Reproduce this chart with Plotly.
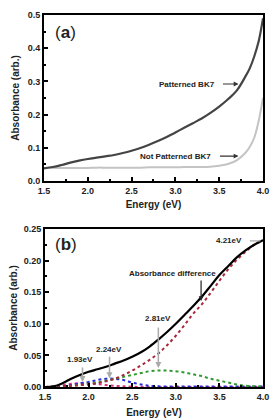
import plotly.graph_objects as go

# ---- Panel (a) data ----
energy_a = [1.5, 1.6, 1.7, 1.8, 1.9, 2.0, 2.1, 2.2, 2.3, 2.4, 2.5, 2.6, 2.7, 2.8, 2.9,
            3.0, 3.1, 3.2, 3.3, 3.4, 3.5, 3.6, 3.7, 3.8, 3.85, 3.9, 3.95, 4.0]
patterned = [0.038, 0.042, 0.048, 0.055, 0.061, 0.066, 0.070, 0.074, 0.078, 0.084, 0.091,
             0.099, 0.109, 0.120, 0.132, 0.146, 0.160, 0.174, 0.188, 0.205, 0.224, 0.246,
             0.272, 0.315, 0.340, 0.375, 0.420, 0.490]
not_patterned = [0.039, 0.039, 0.039, 0.039, 0.039, 0.039, 0.040, 0.040, 0.040, 0.040, 0.040,
                 0.040, 0.041, 0.041, 0.041, 0.041, 0.042, 0.042, 0.042, 0.043, 0.046, 0.051,
                 0.062, 0.085, 0.103, 0.130, 0.180, 0.250]

# ---- Panel (b) data ----
energy_b = [1.5, 1.6, 1.7, 1.8, 1.9, 2.0, 2.1, 2.2, 2.3, 2.4, 2.5, 2.6, 2.7, 2.8, 2.9,
            3.0, 3.1, 3.2, 3.3, 3.4, 3.5, 3.6, 3.7, 3.8, 3.9, 4.0]
abs_diff = [0.0, 0.001, 0.006, 0.013, 0.019, 0.024, 0.028, 0.032, 0.037, 0.042, 0.048,
            0.055, 0.064, 0.075, 0.087, 0.100, 0.114, 0.128, 0.143, 0.160, 0.177, 0.191,
            0.205, 0.216, 0.225, 0.232]
comp_421 = [0.0, 0.0, 0.001, 0.002, 0.003, 0.004, 0.006, 0.009, 0.013, 0.019, 0.026,
            0.034, 0.043, 0.053, 0.066, 0.081, 0.098, 0.116, 0.131, 0.149, 0.168, 0.186,
            0.201, 0.214, 0.225, 0.232]
comp_281 = [0.0, 0.0005, 0.001, 0.002, 0.003, 0.005, 0.007, 0.010, 0.013, 0.016, 0.019,
            0.022, 0.025, 0.026, 0.026, 0.025, 0.023, 0.020, 0.017, 0.013, 0.010, 0.007,
            0.004, 0.002, 0.001, 0.0005]
comp_224 = [0.0, 0.0005, 0.001, 0.003, 0.006, 0.008, 0.011, 0.013, 0.013, 0.011, 0.007,
            0.004, 0.002, 0.001, 0.0008, 0.0008, 0.0008, 0.0008, 0.0008, 0.0008, 0.0008,
            0.0008, 0.0008, 0.0008, 0.0008, 0.0008]
comp_193 = [0.0, 0.001, 0.003, 0.005, 0.006, 0.006, 0.005, 0.003, 0.002, 0.001, 0.0005,
            0.0, 0.0, 0.0, 0.0, 0.0, 0.0, 0.0, 0.0, 0.0, 0.0, 0.0, 0.0, 0.0, 0.0, 0.0]

FONT = "Arial, Liberation Sans, sans-serif"

fig = go.Figure()
fig.add_trace(go.Scatter(x=energy_a, y=not_patterned, mode="lines", line=dict(color="#c4c4c4", width=2, shape="spline"), xaxis="x", yaxis="y"))
fig.add_trace(go.Scatter(x=energy_a, y=patterned, mode="lines", line=dict(color="#444444", width=2.2, shape="spline"), xaxis="x", yaxis="y"))

fig.add_trace(go.Scatter(x=energy_b, y=comp_193, mode="lines", line=dict(color="#e0307a", width=2, dash="dot", shape="spline"), xaxis="x2", yaxis="y2"))
fig.add_trace(go.Scatter(x=energy_b, y=comp_224, mode="lines", line=dict(color="#2a2ad8", width=2, dash="dot", shape="spline"), xaxis="x2", yaxis="y2"))
fig.add_trace(go.Scatter(x=energy_b, y=comp_281, mode="lines", line=dict(color="#2e9a2e", width=2, dash="dot", shape="spline"), xaxis="x2", yaxis="y2"))
fig.add_trace(go.Scatter(x=energy_b, y=comp_421, mode="lines", line=dict(color="#a8283a", width=2, dash="dot", shape="spline"), xaxis="x2", yaxis="y2"))
fig.add_trace(go.Scatter(x=energy_b, y=abs_diff, mode="lines", line=dict(color="black", width=2.2, shape="spline"), xaxis="x2", yaxis="y2"))

axis_common = dict(showline=True, linecolor="black", linewidth=2, mirror=True, showgrid=False,
                   zeroline=False, ticks="inside", ticklen=4, tickwidth=1.5, tickcolor="black",
                   automargin=False, ticklabeloverflow="allow",
                   tickfont=dict(family=FONT, size=9, color="#222", weight="bold"))

title_font = dict(family=FONT, size=10, color="#222", weight="bold")

fig.update_layout(
    width=271, height=418,
    margin=dict(l=44, r=4, t=15, b=31),
    plot_bgcolor="white", paper_bgcolor="white",
    showlegend=False,
    xaxis=dict(domain=[0, 0.982], anchor="y", range=[1.5, 4.0], dtick=0.5, tick0=1.5, tickformat=".1f",
               minor=dict(ticks="inside", dtick=0.25, ticklen=2, tickcolor="black"),
               title=dict(text="Energy (eV)", font=title_font, standoff=6), **axis_common),
    yaxis=dict(domain=[0.554, 1], anchor="x", range=[0, 0.5], dtick=0.1, tickformat=".1f",
               minor=dict(ticks="inside", dtick=0.05, ticklen=2, tickcolor="black"),
               title=dict(text="Absorbance (arb.)", font=title_font, standoff=6), **axis_common),
    xaxis2=dict(domain=[0.0045, 0.982], anchor="y2", range=[1.5, 4.0], dtick=0.5, tick0=1.5, tickformat=".1f",
                minor=dict(ticks="inside", dtick=0.25, ticklen=2, tickcolor="black"),
                title=dict(text="Energy (eV)", font=title_font, standoff=10), **axis_common),
    yaxis2=dict(domain=[0, 0.425], anchor="x2", range=[0, 0.25], dtick=0.05, tickformat=".2f",
                minor=dict(ticks="inside", dtick=0.025, ticklen=2, tickcolor="black"),
                title=dict(text="Absorbance (arb.)", font=title_font, standoff=4), **axis_common),
)

ann_font = dict(family=FONT, size=8, color="#222", weight="bold")
annotations = [
    dict(x=1.74, y=0.446, xref="x", yref="y", text="(<b>a</b>)", showarrow=False,
         font=dict(family=FONT, size=17, color="#222")),
    dict(x=3.475, y=0.292, xref="x", yref="y", text="Patterned BK7", showarrow=False, xanchor="right", font=ann_font),
    dict(x=3.72, y=0.292, xref="x", yref="y", text="", showarrow=True, ax=-17, ay=0,
         arrowhead=2, arrowsize=0.8, arrowwidth=1.2, arrowcolor="#333"),
    dict(x=3.43, y=0.075, xref="x", yref="y", text="Not Patterned BK7", showarrow=False, xanchor="right", font=ann_font),
    dict(x=3.72, y=0.075, xref="x", yref="y", text="", showarrow=True, ax=-20, ay=0,
         arrowhead=2, arrowsize=0.8, arrowwidth=1.2, arrowcolor="#333"),

    dict(x=1.74, y=0.225, xref="x2", yref="y2", text="(<b>b</b>)", showarrow=False,
         font=dict(family=FONT, size=17, color="#222")),
    dict(x=3.786, y=0.231, xref="x2", yref="y2", text="4.21eV", showarrow=False, xanchor="right", font=ann_font),
    dict(x=3.97, y=0.231, xref="x2", yref="y2", text="", showarrow=True, ax=-12, ay=0,
         arrowhead=0, arrowwidth=1.2, arrowcolor="#aaa"),
    dict(x=2.96, y=0.180, xref="x2", yref="y2", text="Absorbance difference", showarrow=False, font=ann_font),
    dict(x=3.29, y=0.136, xref="x2", yref="y2", text="", showarrow=True, ax=0, ay=-22,
         arrowhead=2, arrowsize=0.8, arrowwidth=1.2, arrowcolor="#222"),
    dict(x=2.795, y=0.108, xref="x2", yref="y2", text="2.81eV", showarrow=False, font=ann_font),
    dict(x=2.80, y=0.030, xref="x2", yref="y2", text="", showarrow=True, ax=0, ay=-42,
         arrowhead=2, arrowsize=0.8, arrowwidth=1.5, arrowcolor="#aaa"),
    dict(x=2.23, y=0.059, xref="x2", yref="y2", text="2.24eV", showarrow=False, font=ann_font),
    dict(x=2.24, y=0.014, xref="x2", yref="y2", text="", showarrow=True, ax=0, ay=-23,
         arrowhead=2, arrowsize=0.8, arrowwidth=1.5, arrowcolor="#aaa"),
    dict(x=1.905, y=0.043, xref="x2", yref="y2", text="1.93eV", showarrow=False, font=ann_font),
    dict(x=1.93, y=0.008, xref="x2", yref="y2", text="", showarrow=True, ax=0, ay=-16,
         arrowhead=2, arrowsize=0.8, arrowwidth=1.5, arrowcolor="#aaa"),
]
fig.update_layout(annotations=annotations)

fig.write_html("out.html")
